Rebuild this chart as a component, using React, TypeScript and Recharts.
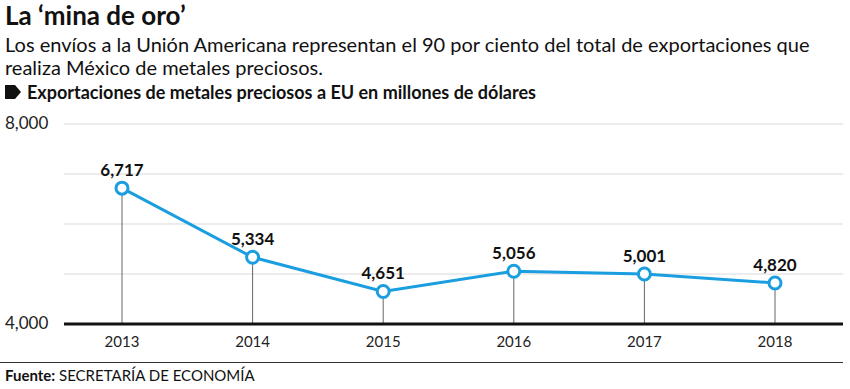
import { ComposedChart, Line, XAxis, YAxis, CartesianGrid, LabelList, ReferenceLine } from "recharts";

const years = ["2013", "2014", "2015", "2016", "2017", "2018"];
const exports_ = [6717, 5334, 4651, 5056, 5001, 4820];
const yTicks = [4000, 5000, 6000, 7000, 8000];
const yLabelTicks = [4000, 8000];

const data = years.map((year, i) => ({ year, value: exports_[i] }));

const font = "Lato, 'Open Sans', sans-serif";
const blue = "#1a9ee0";

function YTick(props: any) {
  const { y, payload } = props;
  if (!yLabelTicks.includes(payload.value)) return null;
  return (
    <text x={5} y={y} dy={5} textAnchor="start" fontSize={17} fill="#222" fontFamily={font}>
      {payload.value.toLocaleString("en-US")}
    </text>
  );
}

const subLine = { position: "absolute" as const, left: 5, fontSize: 20, lineHeight: "20px", whiteSpace: "nowrap" as const };

export default function App() {
  return (
    <div style={{ position: "absolute", left: 0, top: 0, width: 850, height: 389, background: "#fff", fontFamily: font, color: "#111" }}>
      <div style={{ position: "absolute", left: 5, top: 0, fontSize: 26, fontWeight: 700, lineHeight: "30px" }}>
        La ‘mina de oro’
      </div>
      <div style={{ ...subLine, top: 34 }}>
        Los envíos a la Unión Americana representan el 90 por ciento del total de exportaciones que
      </div>
      <div style={{ ...subLine, top: 57 }}>realiza México de metales preciosos.</div>
      <div style={{ position: "absolute", left: 5, top: 81, fontSize: 18, fontWeight: 700, lineHeight: "22px", display: "flex", alignItems: "center" }}>
        <svg width={16} height={14} style={{ marginRight: 6 }}>
          <path d="M0 0 H10 L16 7 L10 14 H0 Z" fill="#111" />
        </svg>
        Exportaciones de metales preciosos a EU en millones de dólares
      </div>
      <div style={{ position: "absolute", left: 0, top: 100 }}>
        <ComposedChart width={850} height={260} data={data} margin={{ top: 24, right: 7, bottom: 6, left: 0 }}>
          <CartesianGrid vertical={false} stroke="#d9d9d9" />
          <XAxis
            dataKey="year"
            padding={{ left: 58, right: 68 }}
            tickLine={false}
            axisLine={{ stroke: "#111", strokeWidth: 3 }}
            tick={{ fontSize: 15, fill: "#222", fontFamily: font }}
            height={30}
            dy={4}
          />
          <YAxis
            domain={[4000, 8000]}
            ticks={yTicks}
            width={64}
            axisLine={false}
            tickLine={false}
            tick={<YTick />}
          />
          {data.map((d) => (
            <ReferenceLine
              key={d.year}
              segment={[{ x: d.year, y: 4000 }, { x: d.year, y: d.value }]}
              stroke="#666"
              strokeWidth={1}
            />
          ))}
          <Line
            dataKey="value"
            stroke={blue}
            strokeWidth={3}
            isAnimationActive={false}
            dot={{ r: 6, fill: "#fff", stroke: blue, strokeWidth: 3 }}
            activeDot={false}
          >
            <LabelList
              dataKey="value"
              position="top"
              offset={12}
              formatter={(v: any) => Number(v).toLocaleString("en-US")}
              style={{ fontSize: 17, fontWeight: 700, fill: "#111", fontFamily: font }}
            />
          </Line>
        </ComposedChart>
      </div>
      <div style={{ position: "absolute", left: 0, top: 362, width: 843, borderTop: "1px solid #333" }} />
      <div style={{ position: "absolute", left: 5, top: 366, fontSize: 15, lineHeight: "18px" }}>
        <b>Fuente:</b> SECRETARÍA DE ECONOMÍA
      </div>
    </div>
  );
}
